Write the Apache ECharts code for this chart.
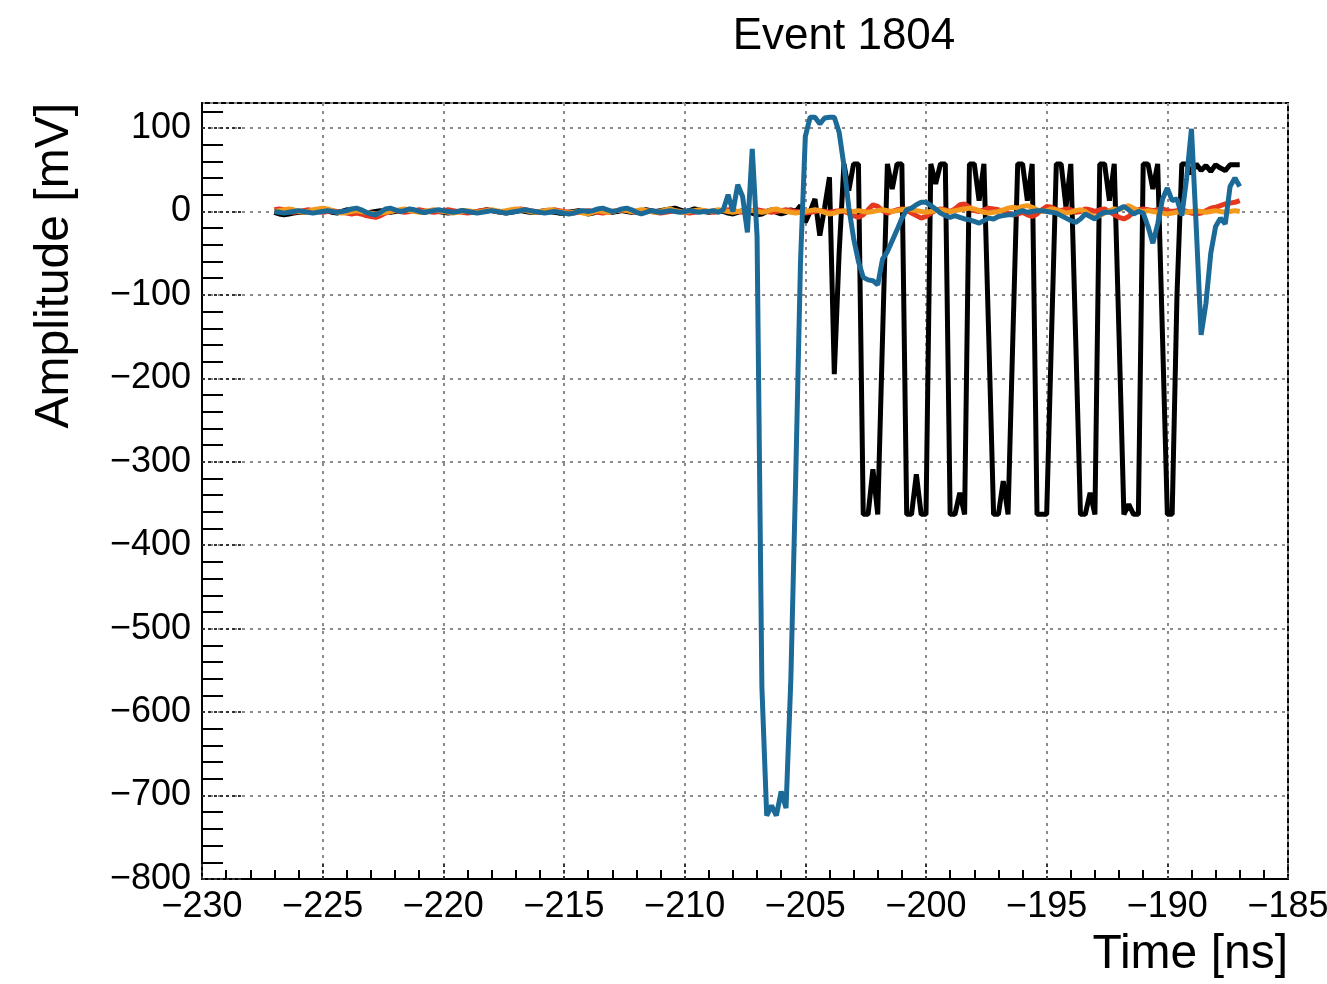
<!DOCTYPE html>
<html>
<head>
<meta charset="utf-8">
<style>
  html, body { margin: 0; padding: 0; background: #fff; overflow: hidden; }
  #chart { width: 1327px; height: 984px; }
</style>
<script src="https://cdn.jsdelivr.net/npm/echarts@6/dist/echarts.min.js"></script>
</head>
<body>
<div id="chart"></div>
<script>
// sampling of the digitizer: 201 samples, 0.2 ns apart
const t0 = -227
const dt = 0.2

// amplitudes in mV, one value per sample
const black = [
  -1, -3, -4, -3, -2, -1, -1, 0, 1, 2,
  2, 1, -1, -2, 0, 2, 1, 0, -1, -2,
  -1, 0, 1, 0, -1, 0, 1, 2, 2, 1,
  0, -1, 0, 1, 0, -1, -2, -1, 0, 1,
  0, -1, 0, 1, 2, 1, 0, -1, -2, -1,
  0, 1, 0, -1, -1, 0, 1, 0, -1, -2,
  -2, -1, 0, 1, 0, -3, -2, 0, 1, 0,
  -1, 0, 1, 0, -1, 0, 1, 2, 1, 0,
  1, 2, 3, 4, 2, 0, 1, 3, 2, 0,
  -1, 0, 1, 0, -2, -3, -1, 1, 0, -2,
  -4, -3, 0, 2, -1, -3, -1, 2, 0, 7,
  -13, 0, 15, -29, 5, 41, -195, -50, 57, 25,
  57, 57, -363, -363, -309, -363, -150, 57, 27, 57,
  57, -363, -363, -315, -363, -363, 57, 33, 57, 57,
  -363, -363, -337, -363, 57, 57, 13, 57, -150, -363,
  -363, -323, -363, -150, 57, 57, 13, 57, -363, -363,
  -363, -150, 57, 57, 5, 57, -150, -363, -363, -337,
  -363, 57, 57, 13, 57, -150, -363, -351, -363, -363,
  57, 57, 27, 57, -150, -363, -363, -100, 57, 57,
  45, 57, 49, 55, 48, 56, 52, 49, 56, 56, 56
]

const red = [
  2, 3, 2, 0, -1, 0, 1, 2, 1, 0,
  -1, 0, 1, 0, -1, -2, -3, -2, -3, -5,
  -6, -7, -5, -2, 0, 1, 0, -1, 0, 1,
  2, 1, 0, -1, 0, 1, 2, 1, 0, -1,
  -2, -1, 0, 1, 2, 1, 0, -1, 0, 1,
  2, 3, 2, 1, 0, -1, 0, 1, 2, 1,
  0, -1, -2, -1, 0, 1, 0, -1, -2, -1,
  0, 1, 2, 1, 0, -1, 0, 1, 0, -1,
  -2, -1, 0, 1, 0, -1, -2, -1, 0, 1,
  0, -1, 0, 1, 2, 1, 0, -1, 0, 1,
  2, 1, 0, -1, 0, 1, 2, 1, 0, -1,
  -2, -1, 0, 1, 0, -1, 0, 1, 0, -2,
  -5, -7, -4, 2, 8, 6, 1, -2, 0, 2,
  3, 1, -2, -5, -8, -6, -2, 1, 3, 2,
  0, 3, 8, 9, 5, 1, 0, 2, 4, 3,
  2, 0, -2, -4, -3, -1, -4, -6, -3, 2,
  6, 5, 2, 1, 3, 2, -1, 0, 3, 2,
  0, 2, 3, 0, -4, -7, -9, -6, -1, 2,
  3, 2, 1, 2, 3, 1, 0, 1, 2, 0,
  -2, -3, -2, 1, 4, 5, 7, 9, 10, 11, 13
]

const orange = [
  0, 1, 2, 3, 2, 0, -1, 0, 2, 3,
  4, 3, 1, -1, -2, -1, 0, 1, 0, -1,
  -2, -3, -2, -1, 0, 1, 2, 3, 1, 0,
  -1, 0, 1, 2, 1, 0, -1, -2, -1, 0,
  1, 0, -1, 0, 1, 2, 1, 0, 1, 2,
  3, 2, 1, 0, -1, 0, 1, 2, 1, 0,
  -1, -2, -1, 0, -2, -3, -1, 1, 0, -1,
  0, 1, 2, 1, 0, 1, 2, 1, 0, -1,
  0, 2, 3, 1, 0, -1, 0, 1, 2, 1,
  0, 1, 2, 1, 0, -1, 0, 1, 2, 1,
  0, -1, 0, 2, 3, 1, 0, -1, -2, -1,
  0, 1, 2, 1, -1, -3, -2, 0, 1, 0,
  0, 1, 0, -1, 0, 1, 2, 1, 0, 1,
  2, 3, 2, 1, 0, -1, 0, 1, 2, 1,
  0, 1, 2, 3, 4, 3, 1, -1, -2, -1,
  0, 2, 4, 5, 4, 6, 7, 5, 2, 0,
  1, 3, 2, 0, -2, -1, 1, 2, 0, -4,
  -7, -5, -2, 1, 3, 2, 5, 7, 4, 1,
  0, 1, 0, -1, -2, -3, -2, -1, 0, -1,
  0, 1, 0, -1, 0, 1, 0, -1, 0, 1, 0
]

const blue = [
  0, -1, -2, -1, 0, 1, 0, -1, -2, -1,
  0, 1, 0, -1, 0, 1, 3, 4, 2, -1,
  -3, -4, -1, 3, 4, 2, 0, 1, 3, 2,
  0, -1, 0, 1, 2, 1, 0, -1, 0, 1,
  0, -1, -2, -1, 0, 1, 0, -1, -2, -1,
  0, 1, 2, 1, 0, -1, -2, -1, 0, -1,
  -2, -3, -2, 0, 1, 0, 1, 3, 4, 2,
  0, 1, 3, 4, 2, -1, -3, -1, 1, 0,
  -1, 0, 1, 0, -1, 0, 1, 0, -1, 0,
  0, 1, -1, 2, 20, 0, 32, 18, -25, 75,
  -30, -570, -724, -712, -724, -695, -715, -560, -320, -60,
  90, 113, 113, 105, 112, 113, 113, 95, 55, 5,
  -32, -60, -79, -82, -83, -88, -57, -48, -35, -22,
  -8, 2, 4, 8, 11, 11, 7, 3, -2, -5,
  -7, -5, -7, -9, -10, -12, -14, -11, -8, -9,
  -6, -5, -4, -4, -1, 1, -1, 0, 1, 1,
  0, -1, -2, -5, -8, -11, -13, -9, -3, -6,
  -9, -4, -1, -1, 0, 3, 6, 2, -3, 0,
  -2, -18, -38, -15, 15, 28, 13, 15, -5, 40,
  99, -20, -148, -110, -50, -18, -8, -15, 30, 40, 30
]

const channels = [
  { name: 'ch0', values: black, color: '#000000' },
  { name: 'ch1', values: red, color: '#e5381f' },
  { name: 'ch2', values: orange, color: '#f39a1e' },
  { name: 'ch3', values: blue, color: '#1b6a98' }
]

const FONT = '"Liberation Sans", Arial, Helvetica, sans-serif'
const minus = v => String(v).replace('-', '\u2212')

// minor y ticks every 20 mV, skipping the major ones
const yMinor = []
for (let v = -780; v <= 120; v += 20) {
  if (v % 100 !== 0) yMinor.push(v)
}

const chart = echarts.init(document.getElementById('chart'), null, { renderer: 'canvas' })

const gridLine = { show: true, lineStyle: { color: '#8a8a8a', width: 2, type: [3, 5] } }
const majorTickStyle = { color: '#333', width: 2, type: [3, 3] }

const option = {
  animation: false,
  backgroundColor: '#fff',
  grid: {
    left: 202, top: 103, width: 1086, height: 776,
    outerBoundsMode: 'none',
    containLabel: false,
    show: true, borderColor: '#000', borderWidth: 2, backgroundColor: 'transparent'
  },
  xAxis: {
    type: 'value', min: -230, max: -185, interval: 5,
    axisLine: { show: true, onZero: false, lineStyle: { color: '#000', width: 2 } },
    axisTick: { show: true, inside: true, length: 17, lineStyle: majorTickStyle },
    minorTick: { show: true, splitNumber: 5, length: 9, lineStyle: { color: '#000', width: 2 } },
    axisLabel: { fontSize: 36, color: '#000', fontFamily: FONT, margin: 10, formatter: minus },
    splitLine: gridLine
  },
  yAxis: [{
    type: 'value', min: -800, max: 130, interval: 100, position: 'left',
    axisLine: { show: true, onZero: false, lineStyle: { color: '#000', width: 2 } },
    axisTick: { show: true, inside: true, length: 42, lineStyle: majorTickStyle },
    axisLabel: {
      fontSize: 36, color: '#000', fontFamily: FONT, margin: 11,
      padding: [6, 0, 0, 0], showMaxLabel: false, formatter: minus
    },
    splitLine: gridLine
  }, {
    type: 'value', min: -800, max: 130, interval: 20, position: 'left',
    axisLine: { show: false },
    axisLabel: { show: false },
    splitLine: { show: false },
    axisTick: { show: true, inside: true, length: 21, customValues: yMinor, lineStyle: { color: '#000', width: 2 } }
  }],
  series: channels.map(ch => ({
    name: ch.name,
    type: 'line',
    showSymbol: false,
    symbol: 'none',
    data: ch.values.map((v, i) => [t0 + i * dt, v]),
    lineStyle: { color: ch.color, width: 5 },
    itemStyle: { color: ch.color },
    emphasis: { disabled: true }
  })),
  graphic: [
    {
      type: 'text', x: 844, y: 37,
      style: { text: 'Event 1804', fontSize: 44, fontFamily: FONT, fill: '#000', align: 'center', verticalAlign: 'middle' }
    },
    {
      type: 'text', x: 1288, y: 955,
      style: { text: 'Time [ns]', fontSize: 48, fontFamily: FONT, fill: '#000', align: 'right', verticalAlign: 'middle' }
    },
    {
      type: 'text', x: 55, y: 103, rotation: Math.PI / 2,
      style: { text: 'Amplitude [mV]', fontSize: 48, fontFamily: FONT, fill: '#000', align: 'right', verticalAlign: 'middle' }
    }
  ]
}

chart.setOption(option)
window.addEventListener('resize', () => chart.resize())
</script>
</body>
</html>
